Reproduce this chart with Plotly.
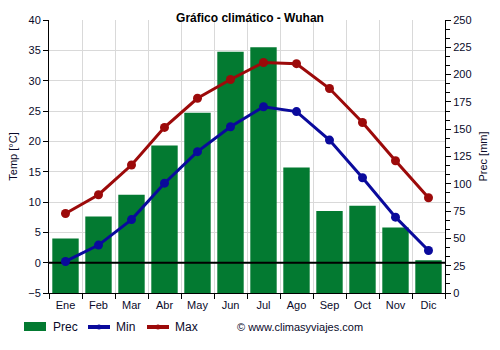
import plotly.graph_objects as go

months = ["Ene", "Feb", "Mar", "Abr", "May", "Jun", "Jul", "Ago", "Sep", "Oct", "Nov", "Dic"]
prec = [50, 70, 90, 135, 165, 221, 225, 115, 75, 80, 60, 30]
t_min = [0.2, 2.9, 7.1, 13.1, 18.3, 22.4, 25.7, 24.9, 20.2, 14.0, 7.5, 2.0]
t_max = [8.1, 11.2, 16.1, 22.3, 27.1, 30.2, 33.0, 32.8, 28.7, 23.1, 16.8, 10.7]

x = list(range(len(months)))
font = "Liberation Sans, Arial, sans-serif"
tick_col = "#0a0a2a"
c_prec, c_min, c_max = "#037a31", "#0a0a9c", "#9c0a0a"

W, H = 500, 350
ML, MR, MT, MB = 49, 55, 20, 57
PW, PH = W - ML - MR, H - MT - MB


def px(xp):
    return (xp - ML) / PW


def py(yp):
    return (H - MB - yp) / PH


fig = go.Figure()

# precipitation bars on the primary (right-hand) axis so the lines draw over them
fig.add_trace(go.Bar(
    x=x, y=prec, name="Prec", marker=dict(color=c_prec, line=dict(width=0)),
    width=0.8, yaxis="y",
))

# 0 °C reference line, above the bars but beneath the temperature lines
fig.add_trace(go.Scatter(
    x=[-0.5, 11.5], y=[0, 0], mode="lines", line=dict(color="black", width=2),
    yaxis="y2", hoverinfo="skip",
))

fig.add_trace(go.Scatter(
    x=x, y=t_min, name="Min", mode="lines+markers", yaxis="y2",
    line=dict(color=c_min, width=3), marker=dict(size=9, color=c_min),
))
fig.add_trace(go.Scatter(
    x=x, y=t_max, name="Max", mode="lines+markers", yaxis="y2",
    line=dict(color=c_max, width=3), marker=dict(size=9, color=c_max),
))

bounds = [i - 0.5 for i in range(len(months) + 1)]

# legend row drawn below the plot
ly = 327
shapes = [
    dict(type="rect", xref="paper", yref="paper", x0=px(24), x1=px(46),
         y0=py(331), y1=py(322), fillcolor=c_prec, line=dict(width=0)),
]
annotations = []
for x0, col in [(88, c_min), (147, c_max)]:
    shapes.append(dict(type="line", xref="paper", yref="paper", x0=px(x0), x1=px(x0 + 22),
                       y0=py(ly), y1=py(ly), line=dict(color=col, width=4)))
    shapes.append(dict(type="circle", xref="paper", yref="paper",
                       x0=px(x0 + 8.5), x1=px(x0 + 13.5), y0=py(ly + 2.5), y1=py(ly - 2.5),
                       fillcolor=col, line=dict(width=0)))
for tx, label in [(51, "Prec"), (114, "Min"), (173, "Max")]:
    annotations.append(dict(text=label, xref="paper", yref="paper", x=px(tx), xanchor="left",
                            y=py(ly), yanchor="middle", showarrow=False,
                            font=dict(family=font, size=12, color=tick_col)))
annotations.append(dict(
    text="© www.climasyviajes.com", xref="paper", yref="paper",
    x=px(235), xanchor="left", y=py(ly), yanchor="middle",
    showarrow=False, font=dict(family=font, size=11, color=tick_col),
))

fig.update_layout(
    width=W, height=H,
    margin=dict(l=ML, r=MR, t=MT, b=MB),
    paper_bgcolor="white", plot_bgcolor="white",
    font=dict(family=font, size=11, color=tick_col),
    showlegend=False,
    title=dict(text="<b>Gráfico climático - Wuhan</b>", x=0.5, xanchor="center",
               y=1 - 18 / H, yanchor="middle",
               font=dict(family=font, size=12, color="black")),
    xaxis=dict(
        range=[-0.5, 11.5], tickvals=x, ticktext=months, showgrid=False,
        ticks="", ticklabelstandoff=2, showline=True, linecolor="black", linewidth=1,
        zeroline=False,
        minor=dict(tickvals=bounds, ticks="outside", ticklen=5, tickcolor="black",
                   showgrid=True, gridcolor="#d9d9d9", gridwidth=1),
        fixedrange=True,
    ),
    yaxis=dict(
        side="right", range=[0, 250], dtick=25, showgrid=False, zeroline=False,
        showline=True, linecolor="black", linewidth=1,
        ticks="outside", ticklen=5, tickcolor="black",
        minor=dict(dtick=25 / 3, ticks="outside", ticklen=4, tickcolor="black"),
        title=dict(text="Prec [mm]", standoff=8, font=dict(size=11, color=tick_col)),
    ),
    yaxis2=dict(
        overlaying="y", side="left", range=[-5, 40], dtick=5,
        showgrid=True, gridcolor="#d9d9d9", gridwidth=1, zeroline=False,
        showline=True, linecolor="black", linewidth=1,
        ticks="outside", ticklen=5, tickcolor="black",
        title=dict(text="Temp [°C]", standoff=8, font=dict(size=11, color=tick_col)),
    ),
    shapes=shapes,
    annotations=annotations,
)

fig.write_html("out.html")
